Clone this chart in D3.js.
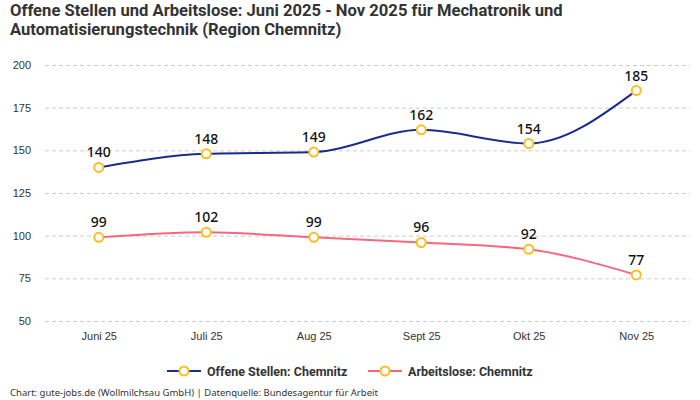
<!DOCTYPE html>
<html>
<head>
<meta charset="utf-8">
<script src="https://cdn.jsdelivr.net/npm/d3@7/dist/d3.min.js"></script>
<style>
  body { margin: 0; background: #fff; }
  svg { font-family: "Noto Sans", Roboto, sans-serif; }
</style>
</head>
<body>
<svg id="chart" width="700" height="400"></svg>
<script>
// chart data
var months = ["Juni 25", "Juli 25", "Aug 25", "Sept 25", "Okt 25", "Nov 25"];
var offeneStellen = [140, 148, 149, 162, 154, 185];
var arbeitslose = [99, 102, 99, 96, 92, 77];
var yTicks = [50, 75, 100, 125, 150, 175, 200];
var seriesNames = ["Offene Stellen: Chemnitz", "Arbeitslose: Chemnitz"];

var svg = d3.select("#chart");
// plot area (note: "top" is reserved on window, so use a margin object)
var plot = { left: 45, right: 690, top: 65, bottom: 321 };

var x = d3.scalePoint().domain(months).range([plot.left, plot.right]).padding(0.5);
var y = d3.scaleLinear().domain([50, 200]).range([plot.bottom, plot.top]);

// title
var title = svg.append("text")
    .attr("x", 10).attr("y", 16)
    .style("font-family", "Roboto, sans-serif")
    .style("font-weight", "bold")
    .style("font-size", "16.6px")
    .style("fill", "#333");
title.append("tspan").attr("x", 10).attr("dy", 0)
    .text("Offene Stellen und Arbeitslose: Juni 2025 - Nov 2025 für Mechatronik und");
title.append("tspan").attr("x", 10).attr("dy", 19)
    .text("Automatisierungstechnik (Region Chemnitz)");

// y axis with dashed grid
var yAxis = svg.append("g")
    .attr("transform", "translate(" + plot.left + ",0)")
    .call(d3.axisLeft(y).tickValues(yTicks).tickSize(-(plot.right - plot.left)).tickPadding(14));
yAxis.select(".domain").remove();
yAxis.selectAll(".tick line")
    .attr("stroke", "#ccc")
    .attr("stroke-dasharray", "4,3");
yAxis.selectAll(".tick text")
    .style("font-size", "11px")
    .style("fill", "#333");

// x axis
var xAxis = svg.append("g")
    .attr("transform", "translate(0," + plot.bottom + ")")
    .call(d3.axisBottom(x).tickSize(0).tickPadding(11));
xAxis.select(".domain").remove();
xAxis.selectAll(".tick text")
    .style("font-size", "11px")
    .style("fill", "#333");

var line = d3.line()
    .x(function (d, i) { return x(months[i]); })
    .y(function (d) { return y(d); })
    .curve(d3.curveMonotoneX);

var series = [
    { name: seriesNames[0], values: offeneStellen, color: "#1b2b8e" },
    { name: seriesNames[1], values: arbeitslose, color: "#f7677f" }
];

series.forEach(function (s) {
    svg.append("path")
        .datum(s.values)
        .attr("d", line)
        .attr("fill", "none")
        .attr("stroke", s.color)
        .attr("stroke-width", 2);

    svg.selectAll(null)
        .data(s.values)
        .enter().append("circle")
        .attr("cx", function (d, i) { return x(months[i]); })
        .attr("cy", function (d) { return y(d); })
        .attr("r", 4.5)
        .attr("fill", "#fff")
        .attr("stroke", "#fbbf24")
        .attr("stroke-width", 2);

    svg.selectAll(null)
        .data(s.values)
        .enter().append("text")
        .attr("x", function (d, i) { return x(months[i]); })
        .attr("y", function (d) { return y(d) - 10; })
        .attr("text-anchor", "middle")
        .style("font-size", "14px")
        .style("font-weight", "500")
        .style("fill", "#111")
        .text(function (d) { return d; });
});

// legend
var legendX = [167, 368];
series.forEach(function (s, i) {
    var g = svg.append("g").attr("transform", "translate(" + legendX[i] + ",371)");
    g.append("line").attr("x1", 0).attr("x2", 34).attr("y1", 0).attr("y2", 0)
        .attr("stroke", s.color).attr("stroke-width", 2);
    g.append("circle").attr("cx", 17).attr("cy", 0).attr("r", 4.5)
        .attr("fill", "#fff").attr("stroke", "#fbbf24").attr("stroke-width", 2);
    g.append("text").attr("x", 40).attr("y", 4.5)
        .style("font-family", "Roboto, sans-serif")
        .style("font-weight", "bold")
        .style("font-size", "12.5px")
        .style("fill", "#333")
        .text(s.name);
});

// footer
svg.append("text")
    .attr("x", 10).attr("y", 396)
    .style("font-size", "9.5px")
    .style("fill", "#333")
    .text("Chart: gute-jobs.de (Wollmilchsau GmbH) | Datenquelle: Bundesagentur für Arbeit");
</script>
</body>
</html>
